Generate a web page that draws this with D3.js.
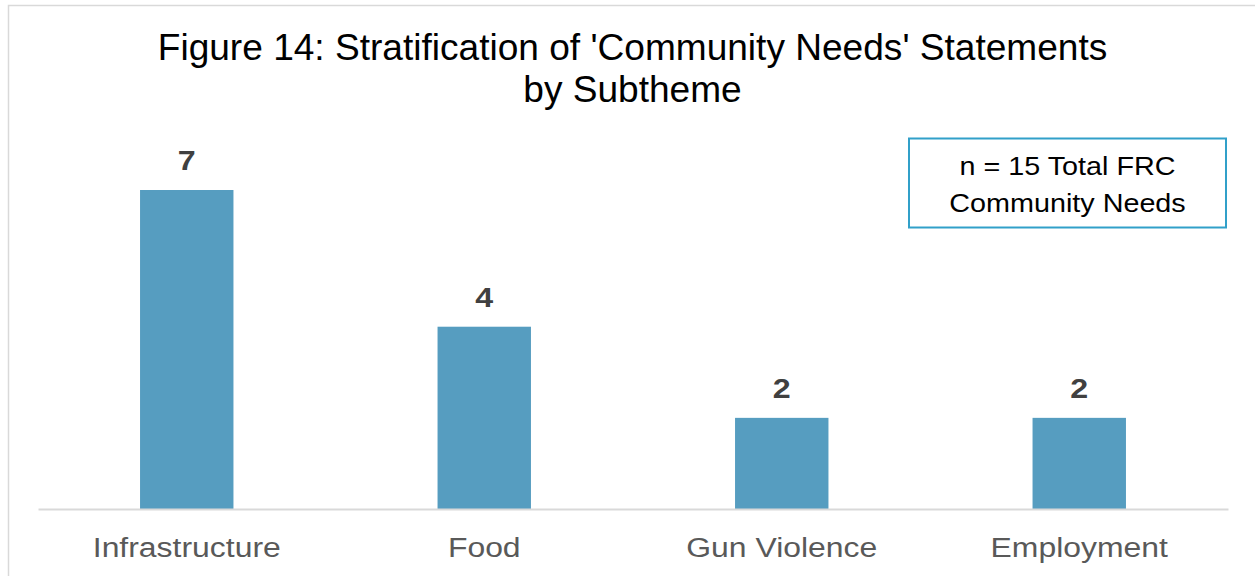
<!DOCTYPE html>
<html>
<head>
<meta charset="utf-8">
<script src="https://cdn.jsdelivr.net/npm/d3@7"></script>
<style>
  html, body { margin: 0; padding: 0; background: #fff; }
  svg { display: block; }
  text { font-family: "Liberation Sans", Arial, sans-serif; }
</style>
</head>
<body>
<svg id="chart" width="1255" height="576"></svg>
<script>
// Subtheme counts for the 'Community Needs' statements
const categories = ["Infrastructure", "Food", "Gun Violence", "Employment"];
const counts = [7, 4, 2, 2];
const titleLines = ["Figure 14: Stratification of 'Community Needs' Statements", "by Subtheme"];
const noteLines = ["n = 15 Total FRC", "Community Needs"];

const W = 1255, H = 576;
const svg = d3.select("#chart");

// chart frame
svg.append("rect")
  .attr("x", 8.5).attr("y", 5.5)
  .attr("width", W + 10).attr("height", H + 10)
  .attr("fill", "#fff").attr("stroke", "#d9d9d9").attr("stroke-width", 1.5);

const plot = { left: 38, right: 1228, bottom: 509 };

const x = d3.scaleBand()
  .domain(categories)
  .range([plot.left, plot.right])
  .paddingInner(0.686)
  .paddingOuter(0.343);

const y = d3.scaleLinear()
  .domain([0, 7])
  .range([plot.bottom, 190]);

// bars
svg.append("g").selectAll("rect")
  .data(categories)
  .join("rect")
  .attr("x", d => x(d))
  .attr("y", (d, i) => y(counts[i]))
  .attr("width", x.bandwidth())
  .attr("height", (d, i) => y(0) - y(counts[i]))
  .attr("fill", "#569dc0");

// value labels (slightly widened type)
svg.append("g").selectAll("text")
  .data(categories)
  .join("text")
  .attr("transform", (d, i) =>
    `translate(${x(d) + x.bandwidth() / 2},${y(counts[i]) - 20}) scale(1.15,1)`)
  .attr("text-anchor", "middle")
  .attr("font-size", 28)
  .attr("font-weight", "bold")
  .attr("fill", "#404040")
  .text((d, i) => counts[i]);

// category axis
const xAxis = d3.axisBottom(x).tickSize(0);
const gx = svg.append("g")
  .attr("transform", `translate(0,${plot.bottom})`)
  .call(xAxis);
gx.select(".domain").attr("stroke", "#d9d9d9").attr("stroke-width", 2);
gx.selectAll(".tick text")
  .attr("font-size", 28)
  .attr("font-family", "'Liberation Sans', Arial, sans-serif")
  .attr("fill", "#595959")
  .attr("dy", 0)
  .attr("y", 0)
  .attr("transform", "translate(0,48) scale(1.14,1)");

// title
svg.append("g")
  .attr("text-anchor", "middle")
  .attr("font-size", 36)
  .attr("fill", "#000")
  .selectAll("text")
  .data(titleLines)
  .join("text")
  .attr("transform", (d, i) => `translate(632.5,${60 + i * 42}) scale(1.03,1)`)
  .text(d => d);

// sample size note
const note = svg.append("g");
note.append("rect")
  .attr("x", 909).attr("y", 138.5)
  .attr("width", 317).attr("height", 89)
  .attr("fill", "#fff").attr("stroke", "#31a0c9").attr("stroke-width", 2);
note.append("g")
  .attr("text-anchor", "middle")
  .attr("font-size", 25)
  .attr("fill", "#000")
  .selectAll("text")
  .data(noteLines)
  .join("text")
  .attr("transform", (d, i) => `translate(1067.5,${175 + i * 37}) scale(1.15,1)`)
  .text(d => d);
</script>
</body>
</html>
